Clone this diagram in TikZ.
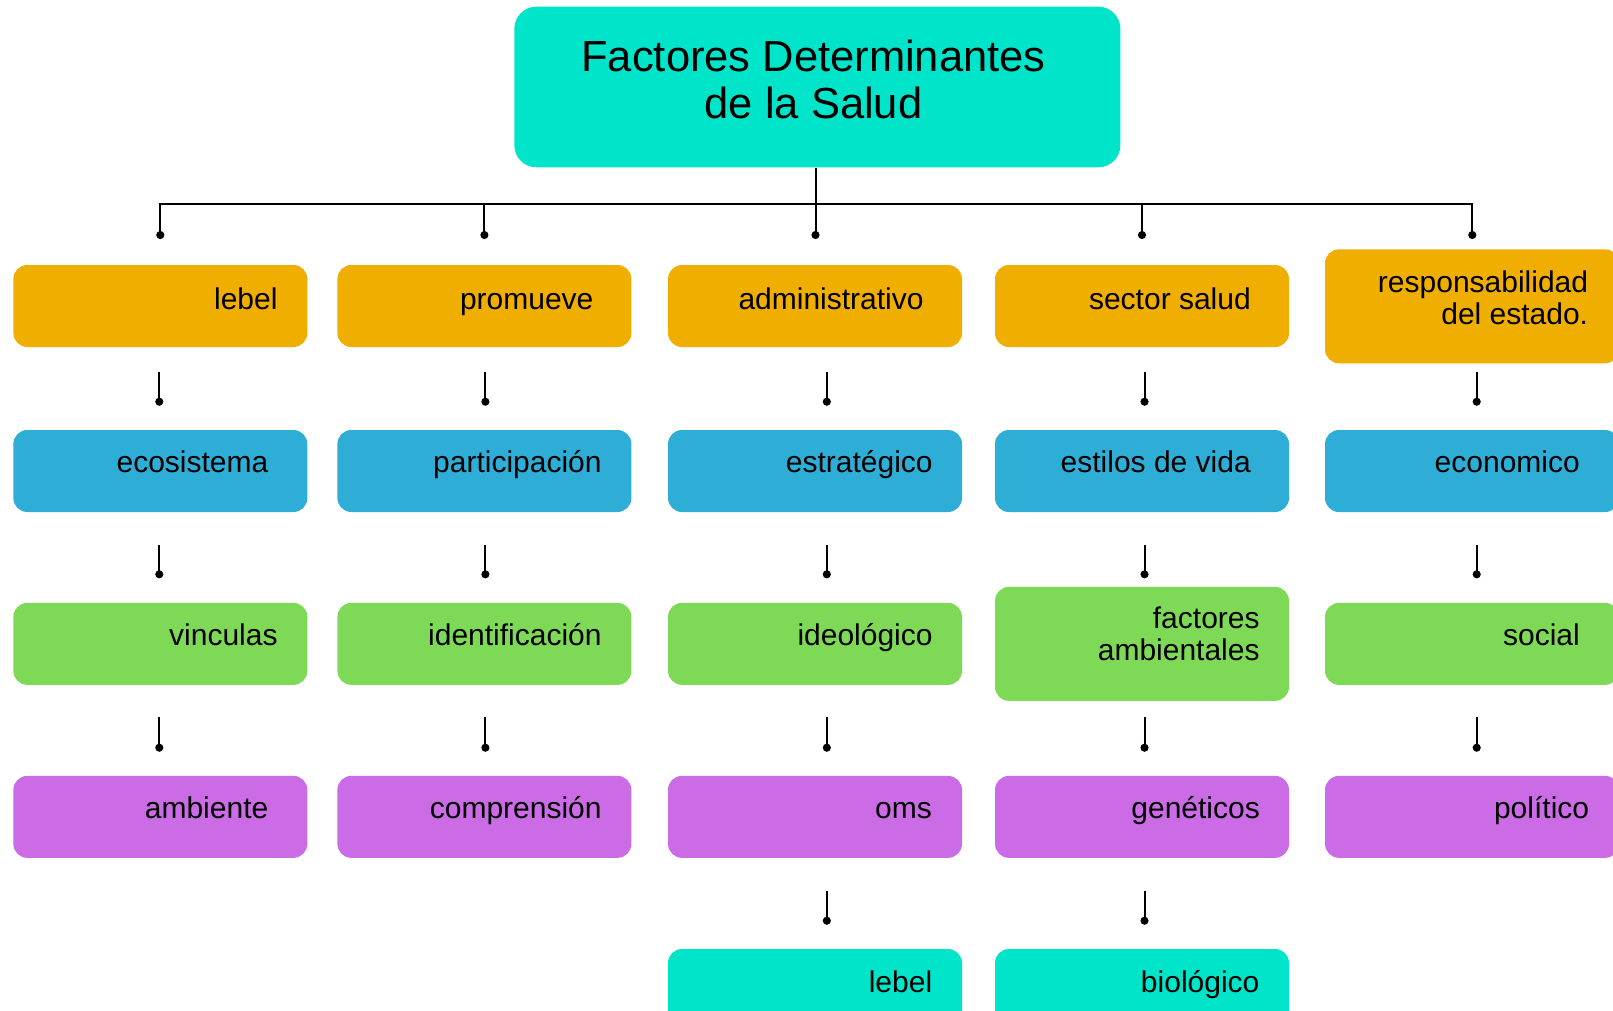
\documentclass[tikz,border=0pt]{standalone}
\usepackage{fontspec}
\setmainfont{Liberation Sans}
\usetikzlibrary{arrows.meta}
\definecolor{cOrange}{HTML}{F0AE00}
\definecolor{cBlue}{HTML}{2EAED6}
\definecolor{cGreen}{HTML}{7ED957}
\definecolor{cPurple}{HTML}{CB6CE6}
\definecolor{cTeal}{HTML}{00E4C9}
\begin{document}
\begin{tikzpicture}[x=1pt,y=-1pt,
  box/.style={rounded corners=14pt, minimum width=294pt, minimum height=82pt, inner sep=0pt, draw=none},
  tall/.style={minimum height=114pt},
  txt/.style={inner sep=0pt, font=\fontsize{30}{32}\selectfont, align=right, anchor=base east, text=black},
  stub/.style={line width=2pt, -{Circle[length=8pt,width=8pt]}},
  bus/.style={line width=2pt, {Circle[length=8pt,width=8pt]}-{Circle[length=8pt,width=8pt]}}]
\clip (0,0) rectangle (1613,1010);
\fill[white] (0,0) rectangle (1613,1010);
% title
\node[box, fill=cTeal, minimum width=606pt, minimum height=160.6pt, rounded corners=22pt] (title) at (817.35,87) {};
\node[inner sep=0pt, font=\fontsize{43.5}{47.3}\selectfont, align=center, anchor=base] (titletext) at (813.5,118.3) {Factores Determinantes\\de la Salud};
% row 1
\node[box, fill=cOrange] (r1c1) at (160.35,306) {};
\node[box, fill=cOrange] (r1c2) at (484.4,306) {};
\node[box, fill=cOrange] (r1c3) at (815,306) {};
\node[box, fill=cOrange] (r1c4) at (1142,306) {};
\node[box, fill=cOrange, tall] (r1c5) at (1472,306.3) {};
\node[txt] (t1c1) at (277.7,309) {lebel};
\node[txt] (t1c2) at (593.6,309) {promueve};
\node[txt] (t1c3) at (923.8,309) {administrativo};
\node[txt] (t1c4) at (1251,309) {sector salud};
\node[txt] (t1c5) at (1588.3,324) {responsabilidad\\del estado.};
% row 2
\node[box, fill=cBlue] (r2c1) at (160.35,471) {};
\node[box, fill=cBlue] (r2c2) at (484.4,471) {};
\node[box, fill=cBlue] (r2c3) at (815,471) {};
\node[box, fill=cBlue] (r2c4) at (1142,471) {};
\node[box, fill=cBlue] (r2c5) at (1472,471) {};
\node[txt] (t2c1) at (268.5,472.7) {ecosistema};
\node[txt] (t2c2) at (601.8,472.7) {participación};
\node[txt] (t2c3) at (932.8,472.7) {estratégico};
\node[txt] (t2c4) at (1251,472.7) {estilos de vida};
\node[txt] (t2c5) at (1580,472.7) {economico};
% row 3
\node[box, fill=cGreen] (r3c1) at (160.35,643.85) {};
\node[box, fill=cGreen] (r3c2) at (484.4,643.85) {};
\node[box, fill=cGreen] (r3c3) at (815,643.85) {};
\node[box, fill=cGreen, tall] (r3c4) at (1142,643.85) {};
\node[box, fill=cGreen] (r3c5) at (1472,643.85) {};
\node[txt] (t3c1) at (277.8,645.3) {vinculas};
\node[txt] (t3c2) at (601.8,645.3) {identificación};
\node[txt] (t3c3) at (932.8,645.3) {ideológico};
\node[txt] (t3c4) at (1259.8,660.7) {factores\\ambientales};
\node[txt] (t3c5) at (1580,645.3) {social};
% row 4
\node[box, fill=cPurple] (r4c1) at (160.35,816.85) {};
\node[box, fill=cPurple] (r4c2) at (484.4,816.85) {};
\node[box, fill=cPurple] (r4c3) at (815,816.85) {};
\node[box, fill=cPurple] (r4c4) at (1142,816.85) {};
\node[box, fill=cPurple] (r4c5) at (1472,816.85) {};
\node[txt] (t4c1) at (268.5,818.3) {ambiente};
\node[txt] (t4c2) at (601.8,818.3) {comprensión};
\node[txt] (t4c3) at (932,818.3) {oms};
\node[txt] (t4c4) at (1260,818.3) {genéticos};
\node[txt] (t4c5) at (1589.3,818.3) {político};
% row 5
\node[box, fill=cTeal] (r5c3) at (815,990) {};
\node[box, fill=cTeal] (r5c4) at (1142,990) {};
\node[txt] (t5c3) at (932.4,992.7) {lebel};
\node[txt] (t5c4) at (1259.6,992.7) {biológico};
% top tree
\coordinate (b1) at (160.3,203.6);
\coordinate (b2) at (484.4,203.6);
\coordinate (b4) at (1142,203.6);
\coordinate (b5) at (1472.3,203.6);
\coordinate (d1) at (160.3,239);
\coordinate (d2) at (484.4,239);
\coordinate (d3) at (815.5,239);
\coordinate (d4) at (1142,239);
\coordinate (d5) at (1472.3,239);
\draw[bus] (d1) -- (b1) -- (b5) -- (d5);
\draw[stub] (b2) -- (d2);
\draw[stub] (b4) -- (d4);
\draw[stub] (title.south -| d3) -- (d3);
% stubs between rows
\foreach \i/\x in {1/159.3,2/485.4,3/826.8,4/1144.5,5/1476.7} {
  \coordinate (ua\i) at (\x,371.7); \coordinate (ub\i) at (\x,405.7);
  \draw[stub] (ua\i) -- (ub\i);
  \coordinate (va\i) at (\x,545); \coordinate (vb\i) at (\x,578.3);
  \draw[stub] (va\i) -- (vb\i);
  \coordinate (wa\i) at (\x,717.3); \coordinate (wb\i) at (\x,751.7);
  \draw[stub] (wa\i) -- (wb\i);
}
\foreach \i/\x in {3/826.8,4/1144.5} {
  \coordinate (za\i) at (\x,890.7); \coordinate (zb\i) at (\x,924.7);
  \draw[stub] (za\i) -- (zb\i);
}
\end{tikzpicture}
\end{document}
